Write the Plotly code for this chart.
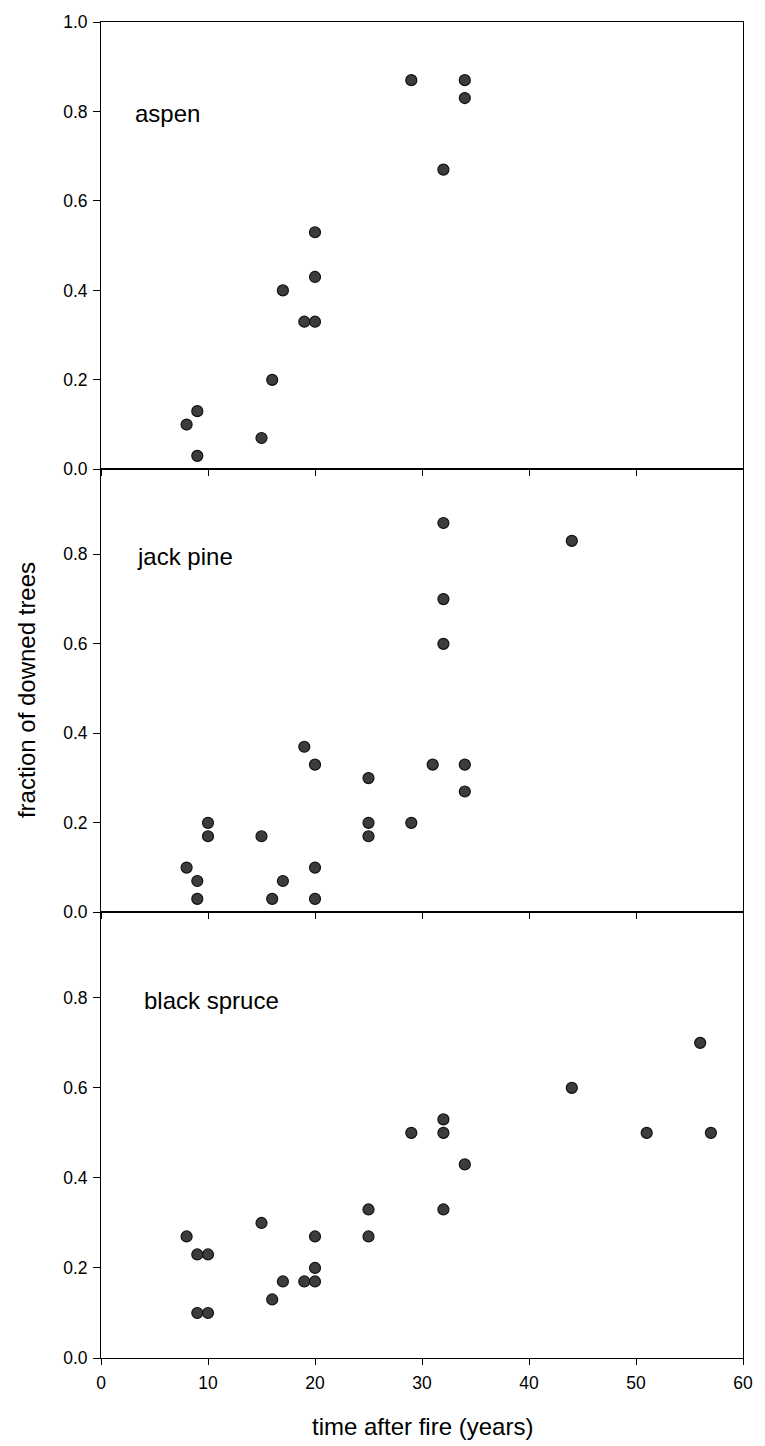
import plotly.graph_objects as go

# ---- data ----
aspen_x = [8, 9, 9, 15, 16, 17, 19, 20, 20, 20, 29, 32, 34, 34]
aspen_y = [0.10, 0.13, 0.03, 0.07, 0.20, 0.40, 0.33, 0.33, 0.43, 0.53, 0.87, 0.67, 0.87, 0.83]

jackpine_x = [8, 9, 9, 10, 10, 15, 16, 17, 19, 20, 20, 20, 25, 25, 25,
              29, 31, 32, 32, 32, 34, 34, 44]
jackpine_y = [0.10, 0.07, 0.03, 0.20, 0.17, 0.17, 0.03, 0.07, 0.37, 0.33, 0.10, 0.03, 0.30, 0.20, 0.17,
              0.20, 0.33, 0.87, 0.70, 0.60, 0.33, 0.27, 0.83]

spruce_x = [8, 9, 10, 9, 10, 15, 16, 17, 19, 20, 20, 20, 25, 25,
            29, 32, 32, 32, 34, 44, 51, 56, 57]
spruce_y = [0.27, 0.23, 0.23, 0.10, 0.10, 0.30, 0.13, 0.17, 0.17, 0.17, 0.20, 0.27, 0.33, 0.27,
            0.50, 0.53, 0.50, 0.33, 0.43, 0.60, 0.50, 0.70, 0.50]

panel_names = ["aspen", "jack pine", "black spruce"]
x_ticks = [0, 10, 20, 30, 40, 50, 60]
y_ticks = [0.0, 0.2, 0.4, 0.6, 0.8, 1.0]
x_title = "time after fire (years)"
y_title = "fraction of downed trees"

FONT = "Liberation Sans, Arial, Helvetica, sans-serif"

series = [(aspen_x, aspen_y), (jackpine_x, jackpine_y), (spruce_x, spruce_y)]
y_ranges = [[0, 1.0], [0, 0.99], [0, 0.99]]
domains = [[0.6652, 1.0], [0.3336, 0.6652], [0.0, 0.3336]]
label_x = [3.0, 3.15, 3.8]

fig = go.Figure()
for i, (xs, ys) in enumerate(series):
    n = i + 1
    fig.add_trace(go.Scatter(
        x=xs, y=ys, mode="markers",
        xaxis=f"x{n}" if n > 1 else "x", yaxis=f"y{n}" if n > 1 else "y",
        marker=dict(size=11, color="#3c3c3c", line=dict(color="#111111", width=1.2)),
        showlegend=False, hoverinfo="x+y",
    ))
    xa = dict(range=[0, 60], domain=[0, 1], anchor=f"y{n}" if n > 1 else "y",
              showline=True, linecolor="black", linewidth=1, mirror=True,
              ticks="outside", ticklen=6, tickcolor="black", tickwidth=1,
              tickvals=x_ticks, showticklabels=(n == 3),
              tickfont=dict(family=FONT, size=17.5, color="black"),
              showgrid=False, zeroline=False, ticklabelstandoff=3)
    ya = dict(range=y_ranges[i], domain=domains[i], anchor=f"x{n}" if n > 1 else "x",
              showline=True, linecolor="black", linewidth=1, mirror=True,
              ticks="outside", ticklen=7, tickcolor="black", tickwidth=1,
              tickvals=y_ticks, tickformat=".1f",
              tickfont=dict(family=FONT, size=17.5, color="black"),
              showgrid=False, zeroline=False, ticklabelstandoff=2)
    fig.update_layout(**{("xaxis" if n == 1 else f"xaxis{n}"): xa,
                         ("yaxis" if n == 1 else f"yaxis{n}"): ya})
    fig.add_annotation(x=label_x[i], y=0.795, xref=("x" if n == 1 else f"x{n}"),
                       yref=("y" if n == 1 else f"y{n}"),
                       text=panel_names[i], showarrow=False, xanchor="left", yanchor="middle",
                       font=dict(family=FONT, size=24, color="black"))

# axis titles
fig.add_annotation(x=0.5, y=-0.0515, xref="paper", yref="paper", text=x_title,
                   showarrow=False, xanchor="center", yanchor="middle",
                   font=dict(family=FONT, size=24, color="black"))
fig.add_annotation(x=-0.1167, y=0.5, xref="paper", yref="paper", text=y_title,
                   textangle=-90, showarrow=False, xanchor="center", yanchor="middle",
                   font=dict(family=FONT, size=24, color="black"))

fig.update_layout(
    width=765, height=1446,
    margin=dict(l=101, r=13, t=17, b=88),
    paper_bgcolor="white", plot_bgcolor="white",
    font=dict(family=FONT, color="black"),
)

fig.write_html("out.html")
